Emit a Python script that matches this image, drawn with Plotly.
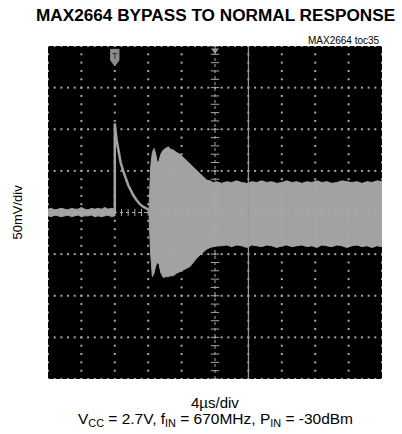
import numpy as np
import plotly.graph_objects as go

# ---------------- data (time in µs, trigger at 0; amplitude in mV) ----------------
pre_t = [-8.0, -7.6, -7.2, -6.8, -6.4, -6.0, -5.6, -5.2, -4.8, -4.4, -4.0, -3.6, -3.2,
         -2.8, -2.4, -2.0, -1.6, -1.2, -0.8, -0.4, 0.0]
pre_top = [4, 5, 3, 4, 5, 4, 3, 5, 4, 4, 6, 4, 3, 5, 4, 5, 4, 6, 4, 5, 4]
pre_bot = [-4, -5, -3, -4, -5, -4, -3, -5, -4, -3, -5, -4, -4, -3, -5, -4, -5, -4, -3, -5, -4]

decay_t = [0.0, 0.0, 0.2, 0.45, 0.7, 1.0, 1.3, 1.6, 1.9, 2.2, 2.6, 3.0, 3.4, 3.7, 4.1]
decay_v = [0, 107, 88, 72, 60, 50, 41, 33, 27, 21, 15, 10, 7, 5, 3]

burst_t = [4.1, 4.3, 4.5, 4.7, 4.9, 5.1, 5.3, 5.5, 5.8, 6.1, 6.4, 6.7, 7.0, 7.4, 7.8,
           8.2, 8.6, 9.0, 9.4, 9.8, 10.2, 10.6, 11.0, 11.4, 11.8, 12.2, 12.8, 13.4,
           14.0, 14.6, 15.2, 15.8, 16.4, 17.0, 17.6, 18.2, 18.8, 19.4, 20.0, 20.6,
           21.2, 21.8, 22.4, 23.0, 23.6, 24.2, 24.8, 25.4, 26.0, 26.6, 27.2, 27.8,
           28.4, 29.0, 29.6, 30.2, 30.8, 31.4, 32.0]
burst_top = [5, 55, 72, 77, 70, 60, 62, 70, 75, 77, 79, 76, 75, 72, 70,
             66, 62, 59, 55, 51, 47, 43, 39, 38, 36, 37, 35, 37,
             36, 38, 36, 35, 37, 36, 38, 36, 37, 35, 36, 38,
             36, 37, 35, 37, 36, 38, 36, 37, 35, 36, 38, 37,
             36, 37, 35, 37, 36, 38, 37]
burst_bot = [-5, -50, -77, -73, -64, -60, -62, -72, -78, -77, -77, -76, -76, -73, -71,
             -69, -67, -65, -60, -55, -51, -47, -44, -42, -41, -40, -40, -39,
             -41, -39, -40, -42, -39, -40, -41, -39, -40, -42, -40, -39,
             -41, -40, -39, -41, -40, -42, -39, -40, -41, -39, -40, -42,
             -40, -39, -41, -40, -42, -40, -41]

cursor_t = 16.0          # solid vertical cursor
trigger_t = 0.0

# ---------------- scope geometry ----------------
X0, X1 = -8.0, 32.0      # 10 div x 4 µs
Y0, Y1 = -200.0, 200.0   # 8 div x 50 mV
XDIV, YDIV = 4.0, 50.0
XC, YC = 12.0, 0.0

TRACE = "#a2a2a2"
GRID = "#a8a8a8"

fig = go.Figure()

fig.add_trace(go.Scatter(x=pre_t + pre_t[::-1], y=pre_top + pre_bot[::-1], fill="toself",
                         fillcolor=TRACE, line=dict(color=TRACE, width=1), mode="lines",
                         hoverinfo="skip"))
fig.add_trace(go.Scatter(x=decay_t, y=decay_v, mode="lines",
                         line=dict(color=TRACE, width=2.5), hoverinfo="skip"))
fig.add_trace(go.Scatter(x=burst_t + burst_t[::-1], y=burst_top + burst_bot[::-1],
                         fill="toself", fillcolor=TRACE, line=dict(color=TRACE, width=1),
                         mode="lines", hoverinfo="skip"))

# ---------------- graticule ----------------
gx, gy = [], []
xminor = np.arange(X0, X1 + 1e-9, XDIV / 5)
yminor = np.arange(Y0, Y1 + 1e-9, YDIV / 5)
for yv in np.arange(Y0, Y1 + 1e-9, YDIV):
    if abs(yv - YC) < 1e-9:
        continue
    gx += list(xminor); gy += [yv] * len(xminor)
for xv in np.arange(X0, X1 + 1e-9, XDIV):
    if abs(xv - XC) < 1e-9:
        continue
    gx += [xv] * len(yminor); gy += list(yminor)
fig.add_trace(go.Scatter(x=gx, y=gy, mode="markers",
                         marker=dict(symbol="square", size=2, color=GRID, line=dict(width=0)),
                         hoverinfo="skip"))
fig.add_trace(go.Scatter(x=list(xminor), y=[YC] * len(xminor), mode="markers",
                         marker=dict(symbol="line-ns", size=5, line=dict(color=GRID, width=1)),
                         hoverinfo="skip"))
fig.add_trace(go.Scatter(x=[XC] * len(yminor), y=list(yminor), mode="markers",
                         marker=dict(symbol="line-ew", size=6, line=dict(color=GRID, width=1)),
                         hoverinfo="skip"))
fig.add_shape(type="line", x0=X0, x1=X1, y0=YC, y1=YC,
              line=dict(color=GRID, width=1, dash="dot"), layer="above")
fig.add_shape(type="line", x0=XC, x1=XC, y0=Y0, y1=Y1,
              line=dict(color=GRID, width=1, dash="dot"), layer="above")

fig.add_shape(type="line", x0=cursor_t, x1=cursor_t, y0=Y0, y1=Y1,
              line=dict(color="#9a9a9a", width=1.2), layer="above")
fig.add_trace(go.Scatter(x=[XC], y=[195], mode="markers",
                         marker=dict(symbol="triangle-down", size=7, color="#9a9a9a"),
                         hoverinfo="skip"))
fig.add_shape(type="path",
              path=f"M {trigger_t-0.5},196 L {trigger_t+0.5},196 L {trigger_t+0.5},183 "
                   f"L {trigger_t},176 L {trigger_t-0.5},183 Z",
              fillcolor="#8c8c8c", line=dict(color="#8c8c8c", width=1), layer="above")
fig.add_annotation(x=trigger_t, y=188, text="T", showarrow=False,
                   font=dict(family="Liberation Sans, Arial", size=9, color="#2a2a2a"))

fig.update_xaxes(range=[X0, X1], visible=False, showgrid=False, zeroline=False, fixedrange=True)
fig.update_yaxes(range=[Y0, Y1], visible=False, showgrid=False, zeroline=False, fixedrange=True)

FONT = "Liberation Sans, Arial, sans-serif"
fig.update_layout(
    width=402, height=434,
    margin=dict(l=48, r=20, t=46, b=55),
    paper_bgcolor="white", plot_bgcolor="black",
    showlegend=False,
    font=dict(family=FONT, color="black"),
)
fig.add_annotation(xref="paper", yref="paper", x=0.5, y=1, yshift=31, xanchor="center",
                   yanchor="middle", text="<b>MAX2664 BYPASS TO NORMAL RESPONSE</b>",
                   showarrow=False, font=dict(family=FONT, size=17.2))
fig.add_annotation(xref="paper", yref="paper", x=1, y=1, yshift=6, xanchor="right",
                   yanchor="middle", text="MAX2664 toc35", showarrow=False,
                   font=dict(family=FONT, size=10))
fig.add_annotation(xref="paper", yref="paper", x=0, xshift=-31, y=0.5, textangle=-90,
                   xanchor="center", yanchor="middle", text="50mV/div", showarrow=False,
                   font=dict(family=FONT, size=13))
fig.add_annotation(xref="paper", yref="paper", x=0.5, y=0, yshift=-23, xanchor="center",
                   yanchor="middle", text="4µs/div", showarrow=False,
                   font=dict(family=FONT, size=15))
fig.add_annotation(xref="paper", yref="paper", x=0.5, y=0, yshift=-40, xanchor="center",
                   yanchor="middle",
                   text="V<sub>CC</sub> = 2.7V, f<sub>IN</sub> = 670MHz, P<sub>IN</sub> = -30dBm",
                   showarrow=False, font=dict(family=FONT, size=15.5))

fig.write_html("out.html", config={"displayModeBar": False},
               post_script="document.body.style.margin='0';document.body.style.overflow='hidden';")
